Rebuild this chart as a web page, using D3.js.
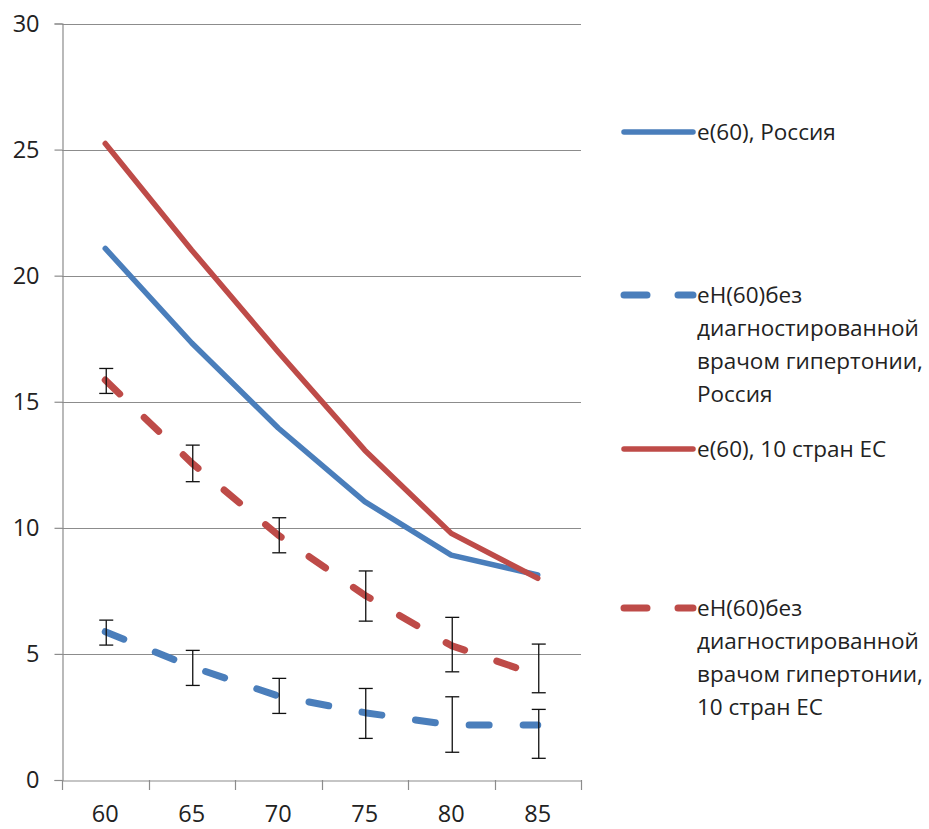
<!DOCTYPE html>
<html>
<head>
<meta charset="utf-8">
<script src="https://cdn.jsdelivr.net/npm/d3@7"></script>
<style>
  html, body { margin: 0; padding: 0; background: #fff; }
  svg { display: block; font-family: "Open Sans", "Noto Sans", sans-serif; }
</style>
</head>
<body>
<svg id="chart" width="929" height="829"></svg>
<script>
const categories = ["60", "65", "70", "75", "80", "85"];
const yTicks = [0, 5, 10, 15, 20, 25, 30];

const eRussia = [21.08, 17.33, 13.96, 11.04, 8.92, 8.13];
const ehRussia = [5.88, 4.49, 3.33, 2.67, 2.18, 2.18];
const ehRussiaLow = [5.35, 3.75, 2.64, 1.65, 1.10, 0.86];
const ehRussiaHigh = [6.34, 5.14, 4.03, 3.63, 3.30, 2.80];

const eEU = [25.24, 21.01, 16.97, 13.08, 9.78, 8.0];
const ehEU = [15.86, 12.57, 9.71, 7.33, 5.33, 4.16];
const ehEULow = [15.33, 11.83, 9.01, 6.30, 4.29, 3.46];
const ehEUHigh = [16.32, 13.28, 10.40, 8.29, 6.45, 5.39];

const legendLabels = [
  ["e(60), Россия"],
  ["eH(60)без", "диагностированной", "врачом гипертонии,", "Россия"],
  ["e(60), 10 стран ЕС"],
  ["eH(60)без", "диагностированной", "врачом гипертонии,", "10 стран ЕС"]
];

(function () {
const blue = "#4a7ebb", red = "#be4b48", grid = "#8c8c8c";

const series = [
  { values: eRussia, color: blue, dashed: false },
  { values: ehRussia, color: blue, dashed: true, low: ehRussiaLow, high: ehRussiaHigh },
  { values: eEU, color: red, dashed: false },
  { values: ehEU, color: red, dashed: true, low: ehEULow, high: ehEUHigh }
];

const svg = d3.select("#chart");
const pLeft = 62, pRight = 581, pTop = 23.5, pBottom = 780;

const x = d3.scaleBand().domain(categories).range([pLeft, pRight]).padding(0);
const y = d3.scaleLinear().domain([0, 30]).range([pBottom, pTop]);

// gridlines
svg.append("g").selectAll("line").data(yTicks.filter(d => d > 0)).join("line")
  .attr("x1", pLeft).attr("x2", pRight)
  .attr("y1", d => Math.round(y(d)) + 0.5).attr("y2", d => Math.round(y(d)) + 0.5)
  .attr("stroke", grid).attr("stroke-width", 1.2);

// y axis
const yAxis = svg.append("g").attr("transform", `translate(${pLeft + 0.5},0)`)
  .call(d3.axisLeft(y).tickValues(yTicks).tickSize(8).tickPadding(15).tickFormat(d3.format("d")));
yAxis.select(".domain").attr("stroke", grid).attr("stroke-width", 1.2);
yAxis.selectAll(".tick line").attr("stroke", grid).attr("stroke-width", 1.2);
yAxis.selectAll("text").attr("font-size", 23.5).attr("fill", "#222").attr("font-family", "Open Sans");

// x axis
const xAxis = svg.append("g").attr("transform", `translate(0,${pBottom + 0.5})`)
  .call(d3.axisBottom(x).tickSize(0).tickPadding(25));
xAxis.select(".domain").attr("stroke", grid).attr("stroke-width", 1.2);
xAxis.selectAll("text").attr("font-size", 23.5).attr("fill", "#222").attr("font-family", "Open Sans");
// category-boundary ticks
const bounds = categories.map(c => x(c)).concat([x(categories[categories.length - 1]) + x.bandwidth()]);
svg.append("g").selectAll("line").data(bounds).join("line")
  .attr("x1", d => Math.round(d) + 0.5).attr("x2", d => Math.round(d) + 0.5)
  .attr("y1", pBottom).attr("y2", pBottom + 10)
  .attr("stroke", grid).attr("stroke-width", 1.2);

const cx = c => x(c) + x.bandwidth() / 2;
const line = d3.line().x((d, i) => cx(categories[i])).y(d => y(d));

series.forEach(s => {
  const p = svg.append("path").datum(s.values)
    .attr("d", line).attr("fill", "none")
    .attr("stroke", s.color)
    .attr("stroke-linejoin", "round");
  if (s.dashed) {
    p.attr("stroke-width", 7).attr("stroke-dasharray", "20,34").attr("stroke-linecap", "round");
  } else {
    p.attr("stroke-width", 5.5).attr("stroke-linecap", "round");
  }
  if (s.low) {
    const g = svg.append("g").attr("stroke", "#111").attr("stroke-width", 1.3);
    categories.forEach((c, i) => {
      const xc = cx(c) + 1;
      g.append("line").attr("x1", xc).attr("x2", xc).attr("y1", y(s.low[i])).attr("y2", y(s.high[i]));
      g.append("line").attr("x1", xc - 7).attr("x2", xc + 7).attr("y1", y(s.low[i])).attr("y2", y(s.low[i]));
      g.append("line").attr("x1", xc - 7).attr("x2", xc + 7).attr("y1", y(s.high[i])).attr("y2", y(s.high[i]));
    });
  }
});

// legend
const legendY = [132, 295, 449, 608];
const lineGap = 33;
series.forEach((s, i) => {
  const g = svg.append("g");
  const ly = legendY[i];
  const l = g.append("line").attr("x1", 624).attr("x2", 693).attr("y1", ly).attr("y2", ly)
    .attr("stroke", s.color).attr("stroke-linecap", "round");
  if (s.dashed) l.attr("stroke-width", 7).attr("stroke-dasharray", "23,31");
  else l.attr("stroke-width", 5.5);
  const t = g.append("text").attr("x", 697).attr("y", ly).attr("font-size", 22.5)
    .attr("fill", "#222").attr("font-family", "Open Sans");
  legendLabels[i].forEach((txt, j) => {
    t.append("tspan").attr("x", 697).attr("y", ly + j * lineGap).attr("dy", "0.35em").text(txt);
  });
});
})();
</script>
</body>
</html>
